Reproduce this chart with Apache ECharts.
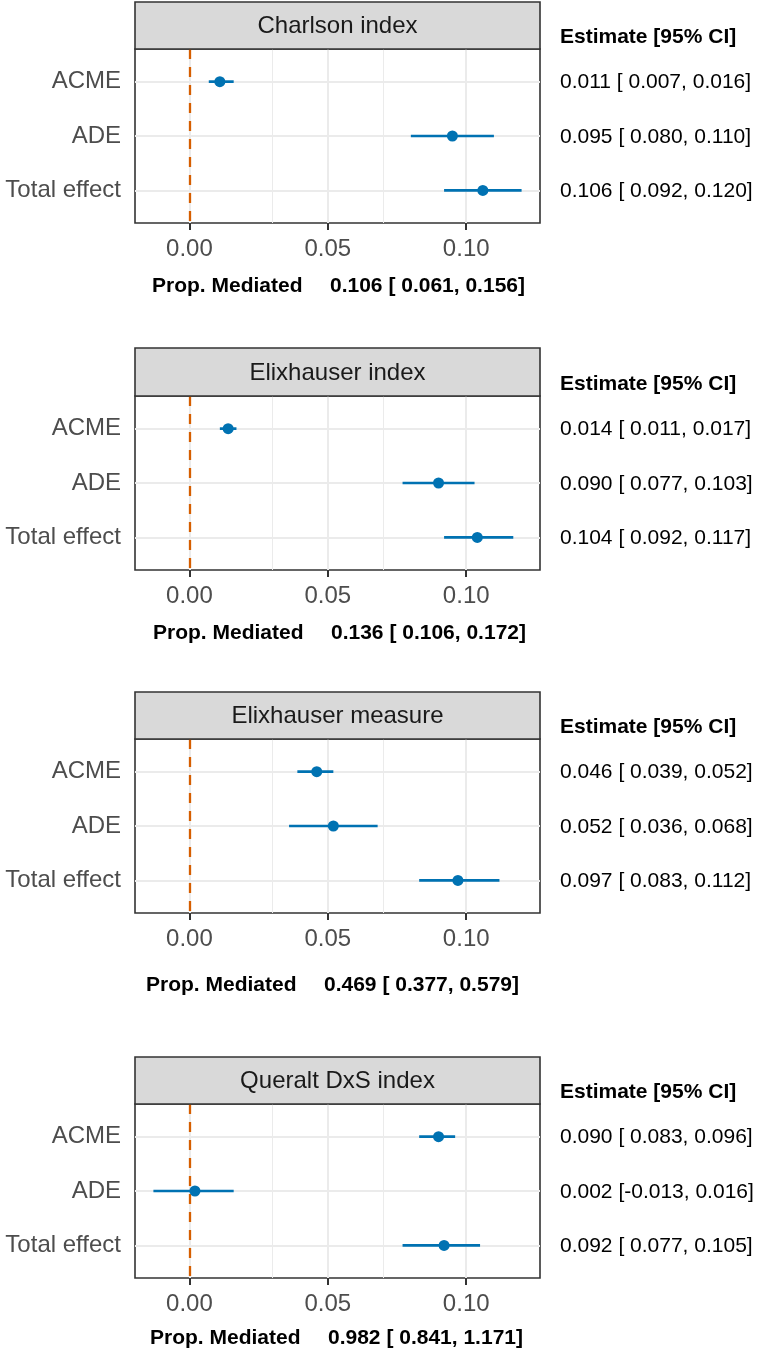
<!DOCTYPE html>
<html><head><meta charset="utf-8">
<script src="https://cdn.jsdelivr.net/npm/echarts@6/dist/echarts.min.js"></script>
<style>html,body{margin:0;padding:0;background:#fff}#c{width:758px;height:1352px}</style>
</head><body><div id="c"></div>
<script>
// ---- data ----
const panels = ['Charlson index', 'Elixhauser index', 'Elixhauser measure', 'Queralt DxS index'];
const effects = ['ACME', 'ADE', 'Total effect'];
const estimates = [[0.011, 0.095, 0.106], [0.014, 0.090, 0.104], [0.046, 0.052, 0.097], [0.090, 0.002, 0.092]];
const lower     = [[0.007, 0.080, 0.092], [0.011, 0.077, 0.092], [0.039, 0.036, 0.083], [0.083, -0.013, 0.077]];
const upper     = [[0.016, 0.110, 0.120], [0.017, 0.103, 0.117], [0.052, 0.068, 0.112], [0.096, 0.016, 0.105]];
const propMed  = [0.106, 0.136, 0.469, 0.982];
const propLow  = [0.061, 0.106, 0.377, 0.841];
const propHigh = [0.156, 0.172, 0.579, 1.171];
const xTicks = [0, 0.05, 0.10];
const xTickLabels = ['0.00', '0.05', '0.10'];
const xMinor = [0.025, 0.075, 0.125];

// ---- layout ----
const FONT = '"Liberation Sans", Arial, sans-serif';
const GL = 135, GR = 540;
const plotTops = [49, 396, 739, 1104];
const stripTops = [2, 348, 692, 1057];
const plotH = 174;
const propY = [286, 633, 985, 1338];
const propX = [152, 153, 146, 150];
const BLUE = '#0072B2', ORANGE = '#D55E00', GRID = '#EBEBEB', DARK = '#333333';

const allLow = Math.min(...lower.flat()), allHigh = Math.max(...upper.flat());
const pad = (allHigh - allLow) * 0.05;
const xMin = allLow - pad, xMax = allHigh + pad;

const fmt = v => (v < 0 ? '' : ' ') + v.toFixed(3);
const ciText = (e, l, h) => e.toFixed(3) + ' [' + fmt(l) + ',' + fmt(h) + ']';

const chart = echarts.init(document.getElementById('c'), null, {renderer: 'canvas'});

const grid = [], xAxis = [], yAxis = [], series = [];
panels.forEach((p, i) => {
  grid.push({left: GL, width: GR - GL, top: plotTops[i], height: plotH, show: true,
    backgroundColor: '#fff', borderColor: DARK, borderWidth: 1.6});
  xAxis.push({type: 'value', gridIndex: i, min: xMin, max: xMax,
    axisLine: {show: false}, splitLine: {show: false},
    axisTick: {show: true, customValues: xTicks, length: 7, lineStyle: {color: DARK, width: 2}},
    axisLabel: {customValues: xTicks, fontSize: 24, color: '#4D4D4D', fontFamily: FONT, margin: 14,
      formatter: v => { let k = 0; xTicks.forEach((t, j) => { if (Math.abs(t - v) < Math.abs(xTicks[k] - v)) k = j; }); return xTickLabels[k]; }}
  });
  yAxis.push({type: 'value', gridIndex: i, min: 0.4, max: 3.6, inverse: true,
    axisLine: {show: false}, splitLine: {show: false},
    axisTick: {show: true, customValues: [1, 2, 3], length: 7, lineStyle: {color: DARK, width: 2}},
    axisLabel: {customValues: [1, 2, 3], fontSize: 24, color: '#4D4D4D', fontFamily: FONT, margin: 14,
      formatter: v => effects[Math.round(v) - 1]}
  });
  // gridlines
  series.push({type: 'scatter', xAxisIndex: i, yAxisIndex: i, data: [], z: 1, silent: true,
    markLine: {z: 1, silent: true, symbol: ['none', 'none'], label: {show: false}, animation: false,
      data: [
        ...xTicks.map(t => ({xAxis: t, lineStyle: {color: GRID, width: 2, type: 'solid'}})),
        ...xMinor.map(t => ({xAxis: t, lineStyle: {color: GRID, width: 1, type: 'solid'}})),
        ...effects.map((e, r) => ({yAxis: r + 1, lineStyle: {color: GRID, width: 2, type: 'solid'}}))
      ]}
  });
  // error bars
  series.push({type: 'custom', xAxisIndex: i, yAxisIndex: i, z: 3, silent: true,
    data: effects.map((e, r) => [lower[i][r], upper[i][r], r + 1]),
    encode: {x: [0, 1], y: 2},
    renderItem: (params, api) => {
      const a = api.coord([api.value(0), api.value(2)]);
      const b = api.coord([api.value(1), api.value(2)]);
      return {type: 'line', shape: {x1: a[0], y1: a[1], x2: b[0], y2: b[1]},
        style: {stroke: BLUE, lineWidth: 2.7}};
    }
  });
  // zero reference line
  series.push({type: 'scatter', xAxisIndex: i, yAxisIndex: i, data: [], z: 4, silent: true,
    markLine: {z: 4, silent: true, symbol: ['none', 'none'], label: {show: false}, animation: false,
      data: [{xAxis: 0}], lineStyle: {color: ORANGE, width: 2.3, type: [10, 8]}}
  });
  // points
  series.push({type: 'scatter', xAxisIndex: i, yAxisIndex: i, z: 6, silent: true,
    symbol: 'circle', symbolSize: 11, itemStyle: {color: BLUE, opacity: 1},
    data: effects.map((e, r) => [estimates[i][r], r + 1])
  });
});

chart.setOption({animation: false, grid, xAxis, yAxis, series});

const graphic = [];
panels.forEach((p, i) => {
  graphic.push({type: 'rect', z: 10, shape: {x: GL, y: stripTops[i], width: GR - GL, height: plotTops[i] - stripTops[i]},
    style: {fill: '#D9D9D9', stroke: DARK, lineWidth: 1.6}});
  graphic.push({type: 'text', z: 11, x: (GL + GR) / 2, y: (stripTops[i] + plotTops[i]) / 2 + 1,
    style: {text: p, fontSize: 24, fontFamily: FONT, fill: '#1A1A1A', align: 'center', verticalAlign: 'middle'}});
  graphic.push({type: 'text', z: 11, x: 560, y: plotTops[i] - 12,
    style: {text: 'Estimate [95% CI]', fontSize: 21, fontWeight: 'bold', fontFamily: FONT, fill: '#000', align: 'left', verticalAlign: 'middle'}});
  effects.forEach((e, r) => {
    const pt = chart.convertToPixel({xAxisIndex: i, yAxisIndex: i}, [0, r + 1]);
    graphic.push({type: 'text', z: 11, x: 560, y: pt[1] + 1,
      style: {text: ciText(estimates[i][r], lower[i][r], upper[i][r]), fontSize: 21, fontFamily: FONT, fill: '#000', align: 'left', verticalAlign: 'middle'}});
  });
  graphic.push({type: 'text', z: 11, x: propX[i], y: propY[i],
    style: {text: 'Prop. Mediated', fontSize: 21, fontWeight: 'bold', fontFamily: FONT, fill: '#000', align: 'left', verticalAlign: 'middle'}});
  graphic.push({type: 'text', z: 11, x: propX[i] + 178, y: propY[i],
    style: {text: ciText(propMed[i], propLow[i], propHigh[i]), fontSize: 21, fontWeight: 'bold', fontFamily: FONT, fill: '#000', align: 'left', verticalAlign: 'middle'}});
});
chart.setOption({graphic});
</script></body></html>
